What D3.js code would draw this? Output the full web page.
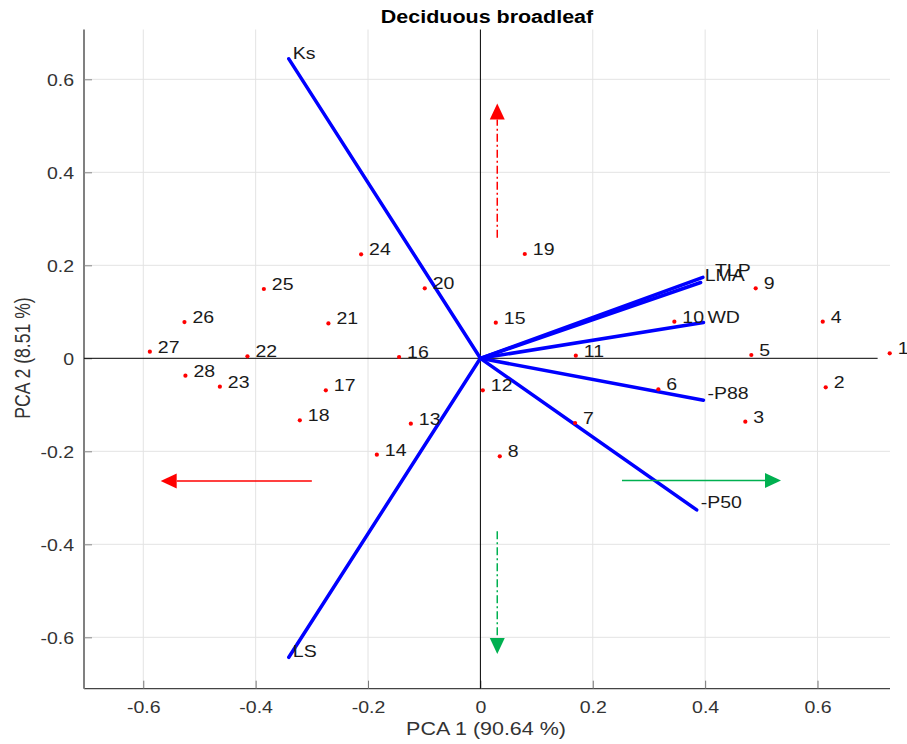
<!DOCTYPE html>
<html>
<head>
<meta charset="utf-8">
<script src="https://cdn.jsdelivr.net/npm/d3@7"></script>
<style>
  body { margin: 0; background: #fff; }
  text { font-family: "Liberation Sans", Arial, Helvetica, sans-serif; }
</style>
</head>
<body>
<script>

// observation scores (PCA 1, PCA 2)
var obsLabels = ["1","2","3","4","5","6","7","8","9","10","11","12","13","14",
                 "15","16","17","18","19","20","21","22","23","24","25","26","27","28"];
var pc1 = [0.7285, 0.6146, 0.4715, 0.6093, 0.4822, 0.3167, 0.1685, 0.0345, 0.4900, 0.3452,
           0.1698, 0.0043, -0.1238, -0.1843, 0.0274, -0.1447, -0.2751, -0.3214, 0.0790, -0.0990,
           -0.2705, -0.4146, -0.4637, -0.2123, -0.3854, -0.5267, -0.5883, -0.5250];
var pc2 = [0.0108, -0.0624, -0.1363, 0.0787, 0.0071, -0.0667, -0.1391, -0.2108, 0.1505, 0.0787,
           0.0056, -0.0688, -0.1406, -0.2073, 0.0766, 0.0028, -0.0688, -0.1333, 0.2243, 0.1505,
           0.0750, 0.0043, -0.0610, 0.2237, 0.1490, 0.0780, 0.0142, -0.0374];

// trait loadings
var varNames = ["Ks", "LS", "LMA", "TLP", "WD", "-P88", "-P50"];
var load1 = [-0.341, -0.341, 0.392, 0.396, 0.397, 0.397, 0.385];
var load2 = [0.644, -0.643, 0.163, 0.174, 0.077, -0.090, -0.326];

// guide arrows [x0, y0, x1 (tip), y1 (tip)]
var guideArrows = [
  [0.030, 0.259, 0.030, 0.548],
  [0.030, -0.372, 0.030, -0.636],
  [-0.300, -0.264, -0.569, -0.264],
  [0.252, -0.263, 0.535, -0.263]
];

var xTicks = [-0.6, -0.4, -0.2, 0, 0.2, 0.4, 0.6];
var yTicks = [-0.6, -0.4, -0.2, 0, 0.2, 0.4, 0.6];

var svgWidth = 907;
var svgHeight = 744;
var margin = { top: 29.5, right: 17, bottom: 55.3, left: 84 };
var width = svgWidth - margin.left - margin.right;
var height = svgHeight - margin.top - margin.bottom;
var SX = 1.22; // picture is stretched sideways

var svg = d3.select("body").append("svg")
  .attr("width", svgWidth)
  .attr("height", svgHeight);

var chartGroup = svg.append("g")
  .attr("transform", `translate(${margin.left}, ${margin.top})`);

var xScale = d3.scaleLinear().domain([-0.7055, 0.729]).range([0, width]);
var yScale = d3.scaleLinear().domain([-0.7105, 0.7071]).range([height, 0]);

function addText(g, x, y, str, size) {
  return g.append("text")
    .attr("transform", `translate(${x},${y}) scale(${SX},1)`)
    .style("font-size", size + "px")
    .attr("fill", "#1a1a1a")
    .text(str);
}

// grid
chartGroup.append("g").selectAll("line")
  .data(xTicks.filter(d => d !== 0))
  .enter().append("line")
  .attr("x1", d => xScale(d)).attr("x2", d => xScale(d))
  .attr("y1", 0).attr("y2", height)
  .attr("stroke", "#e3e3e3").attr("stroke-width", 1);

chartGroup.append("g").selectAll("line")
  .data(yTicks.filter(d => d !== 0))
  .enter().append("line")
  .attr("x1", 0).attr("x2", width)
  .attr("y1", d => yScale(d)).attr("y2", d => yScale(d))
  .attr("stroke", "#e3e3e3").attr("stroke-width", 1);

// axes
var bottomAxis = d3.axisBottom(xScale).tickValues(xTicks).tickSize(-8)
  .tickFormat(d => String(d));
var leftAxis = d3.axisLeft(yScale).tickValues(yTicks).tickSize(-8)
  .tickFormat(d => String(d));

chartGroup.append("g")
  .attr("transform", `translate(0, ${height})`)
  .call(bottomAxis)
  .call(g => g.select(".domain").attr("stroke", "#444").attr("stroke-width", 1.3).attr("d", `M0,0H${width}`))
  .call(g => g.selectAll(".tick line").attr("stroke", "#777"))
  .call(g => g.selectAll("text")
    .attr("y", 24).attr("dy", 0)
    .attr("transform", `scale(${SX},1)`)
    .style("font-size", "16px")
    .attr("fill", "#333"));

chartGroup.append("g")
  .call(leftAxis)
  .call(g => g.select(".domain").attr("stroke", "#808080").attr("stroke-width", 2).attr("d", `M0,0V${height}`))
  .call(g => g.selectAll(".tick line").attr("stroke", "#888"))
  .call(g => g.selectAll("text")
    .attr("x", -10 / SX).attr("y", 6).attr("dy", 0)
    .attr("transform", `scale(${SX},1)`)
    .style("font-size", "16px")
    .attr("fill", "#333"));

// zero lines
chartGroup.append("line")
  .attr("x1", 0).attr("x2", xScale(0.707))
  .attr("y1", yScale(0)).attr("y2", yScale(0))
  .attr("stroke", "#000").attr("stroke-width", 1);
chartGroup.append("line")
  .attr("x1", xScale(0)).attr("x2", xScale(0))
  .attr("y1", 0).attr("y2", height)
  .attr("stroke", "#000").attr("stroke-width", 1);

// loading vectors
chartGroup.append("g").selectAll("line")
  .data(varNames)
  .enter().append("line")
  .attr("x1", xScale(0)).attr("y1", yScale(0))
  .attr("x2", (d, i) => xScale(load1[i]))
  .attr("y2", (d, i) => yScale(load2[i]))
  .attr("stroke", "#0000ff")
  .attr("stroke-width", 3.5)
  .attr("stroke-linecap", "round");

// observation points
chartGroup.append("g").selectAll("circle")
  .data(obsLabels)
  .enter().append("circle")
  .attr("cx", (d, i) => xScale(pc1[i]))
  .attr("cy", (d, i) => yScale(pc2[i]))
  .attr("r", 2.1)
  .attr("fill", "#ff0000");

obsLabels.forEach(function(lab, i) {
  addText(chartGroup, xScale(pc1[i]) + 8, yScale(pc2[i]) + 1, lab, 16);
});

varNames.forEach(function(name, i) {
  var dx = name === "TLP" ? 12 : 4;
  var dy = name === "Ks" || name === "LS" || name === "WD" ? 0 : -1.5;
  addText(chartGroup, xScale(load1[i]) + dx, yScale(load2[i]) + dy, name, 16);
});

// guide arrows
var guideColors = ["#ff0000", "#00b050", "#ff0000", "#00b050"];
var guideDash = ["8,3,2,3", "8,3,2,3", null, null];
guideArrows.forEach(function(a, i) {
  var x0 = xScale(a[0]), y0 = yScale(a[1]), x1 = xScale(a[2]), y1 = yScale(a[3]);
  var len = Math.hypot(x1 - x0, y1 - y0);
  var ux = (x1 - x0) / len, uy = (y1 - y0) / len;
  var head = 16, half = 7.5;
  var bx = x1 - ux * head, by = y1 - uy * head;
  chartGroup.append("line")
    .attr("x1", x0).attr("y1", y0).attr("x2", bx).attr("y2", by)
    .attr("stroke", guideColors[i]).attr("stroke-width", 1.5)
    .attr("stroke-dasharray", guideDash[i]);
  chartGroup.append("path")
    .attr("d", `M${x1},${y1}L${bx - uy * half},${by + ux * half}L${bx + uy * half},${by - ux * half}Z`)
    .attr("fill", guideColors[i]);
});

// title and axis labels
svg.append("text")
  .attr("transform", `translate(${margin.left + width / 2}, 22.7) scale(${SX},1)`)
  .attr("text-anchor", "middle")
  .style("font-size", "17.6px")
  .style("font-weight", "bold")
  .attr("fill", "#000")
  .text("Deciduous broadleaf");

svg.append("text")
  .attr("transform", `translate(486, 735) scale(${SX},1)`)
  .attr("text-anchor", "middle")
  .style("font-size", "17.6px")
  .attr("fill", "#333")
  .text("PCA 1 (90.64 %)");

svg.append("text")
  .attr("transform", `translate(29.5, 358) scale(${SX},1) rotate(-90)`)
  .attr("text-anchor", "middle")
  .style("font-size", "17.6px")
  .attr("fill", "#333")
  .text("PCA 2 (8.51 %)");

</script>
</body>
</html>
